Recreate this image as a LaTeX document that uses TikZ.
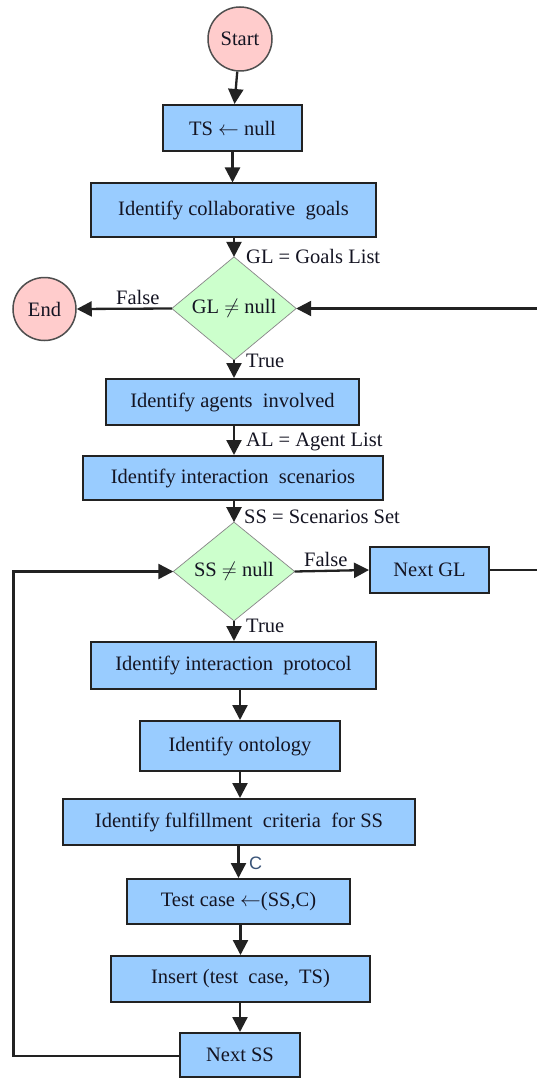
\documentclass[tikz,border=0pt]{standalone}
\usepackage{fontspec}
\setmainfont{Liberation Serif}
\newfontfamily\boxserif{Liberation Serif}
\newfontfamily\labelsans{Liberation Sans}
\usetikzlibrary{shapes.geometric,arrows.meta}
\definecolor{boxblue}{HTML}{99CCFF}
\definecolor{decgreen}{HTML}{CCFFCC}
\definecolor{termpink}{HTML}{FFCCCC}
\definecolor{inkdark}{HTML}{141422}
\definecolor{edgegray}{HTML}{222222}
\definecolor{clabel}{HTML}{3A5478}
\tikzset{
  base/.style={text=inkdark, font=\boxserif\fontsize{20.5}{24}\selectfont, inner sep=0pt},
  procbox/.style={base, rectangle, draw=edgegray, line width=2pt, fill=boxblue},
  decision/.style={base, diamond, draw=none, fill=decgreen},
  terminal/.style={base, circle, draw=edgegray!80, line width=1.5pt, fill=termpink},
  flow/.style={line width=2.3pt, draw=edgegray, -{Triangle[length=15pt,width=15pt]}},
  flowlabel/.style={base, anchor=west}
}
\begin{document}
\begin{tikzpicture}[x=1pt,y=-1pt]
\useasboundingbox[fill=white] (0,0) rectangle (536,1078);

% terminals
\node[terminal, minimum size=64pt] (start) at (240,39) {Start};
\node[terminal, minimum size=63pt] (end) at (44.5,309) {End};

% process boxes
\node[procbox, minimum width=139pt, minimum height=46pt] (ts) at (232.5,128) {TS $\leftarrow$ null};
\node[procbox, minimum width=285pt, minimum height=53pt] (goals) at (233.5,210) {Identify collaborative\ \ goals};
\node[procbox, minimum width=253pt, minimum height=46pt] (agents) at (232.5,402) {Identify agents\ \ involved};
\node[procbox, minimum width=300pt, minimum height=44pt] (scen) at (233,478) {Identify interaction\ \ scenarios};
\node[procbox, minimum width=119pt, minimum height=46pt] (nextgl) at (429.5,570) {Next GL};
\node[procbox, minimum width=285pt, minimum height=47pt] (proto) at (233.5,665.5) {Identify interaction\ \ protocol};
\node[procbox, minimum width=200pt, minimum height=50pt] (onto) at (240,746) {Identify ontology};
\node[procbox, minimum width=352pt, minimum height=46pt] (crit) at (239,822) {Identify fulfillment\ \ criteria\ \ for SS};
\node[procbox, minimum width=223pt, minimum height=45pt] (test) at (238.5,901.5) {Test case $\leftarrow$(SS,C)};
\node[procbox, minimum width=259pt, minimum height=46pt] (insert) at (240.5,979) {Insert (test\ \ case,\ \ TS)};
\node[procbox, minimum width=120pt, minimum height=44pt] (nextss) at (240,1055) {Next SS};

% decisions
\node[decision, minimum width=124pt, minimum height=77pt] (gl) at (234,308.5) {GL $\neq$ null};
\node[decision, minimum width=121pt, minimum height=77pt] (ss) at (234,571.5) {SS $\neq$ null};
\draw[draw=edgegray!55, line width=0.7pt] (gl.north) -- (gl.east) -- (gl.south) -- (gl.west) -- cycle;
\draw[draw=edgegray!55, line width=0.7pt] (ss.north) -- (ss.east) -- (ss.south) -- (ss.west) -- cycle;

% main flow
\draw[flow] (start) -- (ts);
\draw[flow] (ts) -- (goals.north -| ts);
\draw[flow] (goals.south -| gl.north) -- (gl.north);
\draw[flow] (gl.west) -- (end.east);
\draw[flow] (gl.south) -- (agents.north -| gl.south);
\draw[flow] (agents.south -| gl.south) -- (scen.north -| gl.south);
\draw[flow] (scen.south -| ss.north) -- (ss.north);
\draw[flow] (ss.east) -- (nextgl.west);
\draw[flow] (ss.south) -- (proto.north -| ss.south);
\draw[flow] (proto.south -| onto.north) -- (onto.north);
\draw[flow] (onto.south) -- (crit.north -| onto.south);
\draw[flow] (crit.south -| test.north) -- (test.north);
\draw[flow] (test.south -| insert.north) -- (insert.north);
\draw[flow] (insert.south -| nextss.north) -- (nextss.north);

% loop back to the goals test (runs along the right edge)
\coordinate (rightrail) at (547,570);
\draw[flow] (nextgl.east) -| (rightrail) |- (gl.east);

% loop back to the scenarios test
\coordinate (leftrail) at (13.5,1056);
\draw[flow] (nextss.west |- leftrail) -- (leftrail) |- (ss.west);

% connector labels
\node[flowlabel] (lgl) at (246,256) {GL = Goals List};
\node[flowlabel] (lfalse1) at (116,297) {False};
\node[flowlabel] (ltrue1) at (246,361) {True};
\node[flowlabel] (lal) at (246,442) {AL = Agent List};
\node[flowlabel] (lss) at (244,517) {SS = Scenarios Set};
\node[flowlabel] (lfalse2) at (304,559) {False};
\node[flowlabel] (ltrue2) at (246,626) {True};
\node[flowlabel, text=clabel, font=\labelsans\fontsize{18}{20}\selectfont] (lc) at (249,863) {C};
\end{tikzpicture}
\end{document}
